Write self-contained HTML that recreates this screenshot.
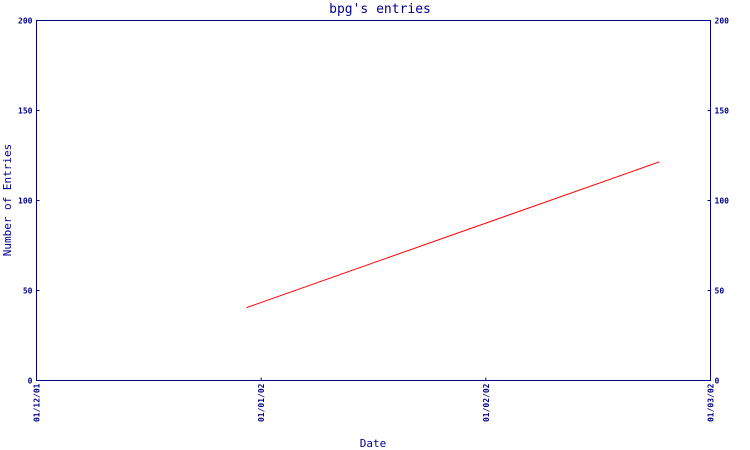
<!DOCTYPE html>
<html><head><meta charset="utf-8"><style>
body{margin:0;background:#fff;}
svg{display:block;font-family:"DejaVu Sans Mono","Liberation Mono",monospace;}
</style></head><body>
<svg id="chart" width="750" height="450" xmlns="http://www.w3.org/2000/svg"></svg>
<script>
const monthLabels = ["01/12/01","01/01/02","01/02/02","01/03/02"];
const yTicks = [0,50,100,150,200];
const pointMonths = [0.935, 2.773];
const pointValues = [40.5, 121.5];

const L=36.5,R=710.5,T=20.5,B=380.5;
const NS="http://www.w3.org/2000/svg";
const svg=document.getElementById('chart');
const C='#00008b';
function xs(m){return L+(R-L)*m/(monthLabels.length-1);}
function ys(v){return B-(B-T)*v/200;}
function mk(tag,attrs,parent){const e=document.createElementNS(NS,tag);for(const k in attrs)e.setAttribute(k,attrs[k]);(parent||svg).appendChild(e);return e;}

const frame=mk('rect',{x:L,y:T,width:R-L,height:B-T,fill:'none',stroke:C,'stroke-width':1});



const title=mk('text',{x:380,y:13,'text-anchor':'middle','font-size':13,fill:C});
title.textContent="bpg's entries";



yTicks.forEach(v=>{
  const y=ys(v);
  const t1=mk('line',{x1:L,x2:L+3,y1:y,y2:y,stroke:C});
  
  
  const t2=mk('line',{x1:R-3,x2:R,y1:y,y2:y,stroke:C});
  
  
  const a=mk('text',{x:L-4,y:y+3,'text-anchor':'end','font-size':8,'font-weight':'bold',fill:C});
  a.textContent=v;
  
  
  const b=mk('text',{x:R+4,y:y+3,'text-anchor':'start','font-size':8,'font-weight':'bold',fill:C});
  b.textContent=v;
  
  
});

monthLabels.forEach((lab,i)=>{
  const x=xs(i);
  const t=mk('line',{x1:x,x2:x,y1:B-3,y2:B,stroke:C});
  
  
  const tx=mk('text',{x:0,y:0,'text-anchor':'end','font-size':8,'font-weight':'bold',fill:C,transform:`translate(${x+3},${B+3}) rotate(-90)`});
  tx.textContent=lab;
  
  
});

const xt=mk('text',{x:373,y:447,'text-anchor':'middle','font-size':11,fill:C});
xt.textContent='Date';


const yt=mk('text',{x:0,y:0,'text-anchor':'middle','font-size':11,fill:C,transform:'translate(11,200) rotate(-90)'});
yt.textContent='Number of Entries';



const pts=pointMonths.map((m,i)=>xs(m)+','+ys(pointValues[i])).join(' ');
const line=mk('polyline',{points:pts,fill:'none',stroke:'#ff0000','stroke-width':1});


</script>
</body></html>
